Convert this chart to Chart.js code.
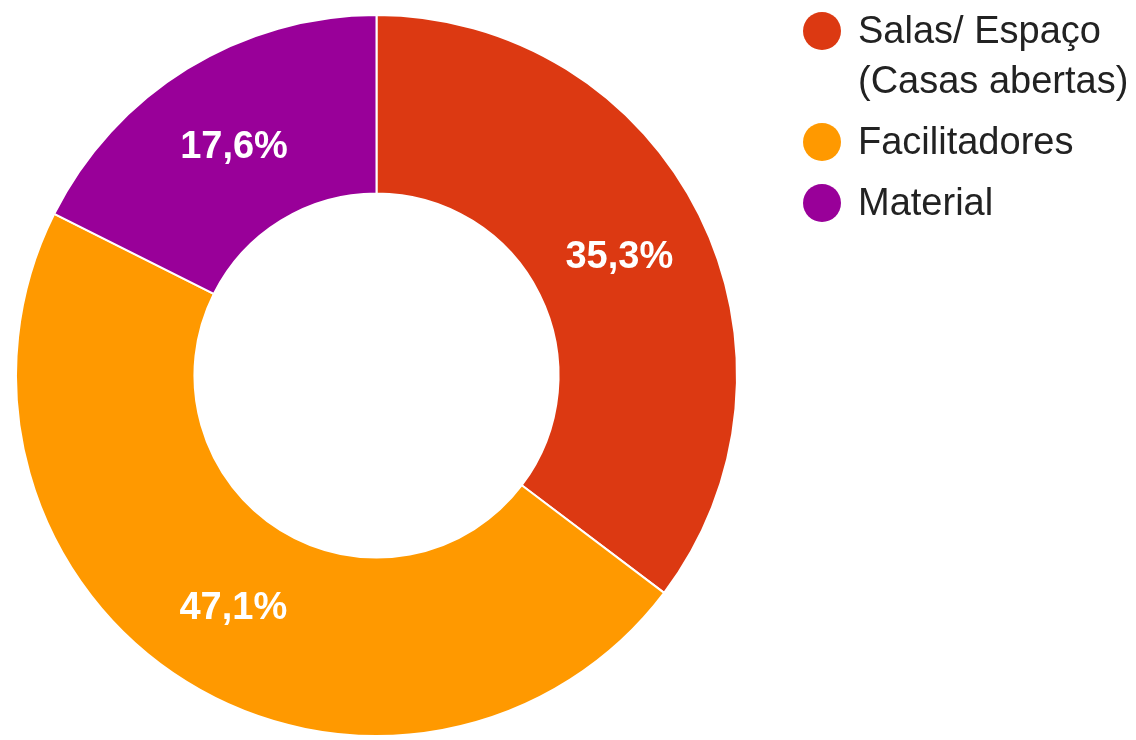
<!DOCTYPE html>
<html>
<head>
<meta charset="utf-8">
<script src="https://cdn.jsdelivr.net/npm/chart.js@4"></script>
<style>
  html, body { margin: 0; padding: 0; background: #fff; }
  #wrap { position: relative; width: 1136px; height: 740px; }
  #legend { position: absolute; left: 803px; top: 0; font-family: "Liberation Sans", Arial, sans-serif; font-size: 38px; color: #222; }
  .item { position: absolute; left: 0; white-space: nowrap; }
  .dot { position: absolute; left: 0; width: 38px; height: 38px; border-radius: 50%; }
  .txt { position: absolute; left: 55px; line-height: 50px; }
</style>
</head>
<body>
<div id="wrap">
  <canvas id="donut" width="1136" height="740"></canvas>
  <div id="legend"></div>
</div>
<script>
const categories = ["Salas/ Espaço\n(Casas abertas)", "Facilitadores", "Material"]
const values = [35.3, 47.1, 17.6]
const colors = ["#dc3912", "#ff9900", "#990099"]

// legend rows (top of each row, px)
const legendTops = [5, 116, 177]
const legend = document.getElementById("legend")
categories.forEach((name, i) => {
  const item = document.createElement("div")
  item.className = "item"
  item.style.top = legendTops[i] + "px"
  const dot = document.createElement("div")
  dot.className = "dot"
  dot.style.background = colors[i]
  dot.style.top = "7px"
  const txt = document.createElement("div")
  txt.className = "txt"
  txt.innerHTML = name.split("\n").join("<br>")
  item.appendChild(dot)
  item.appendChild(txt)
  legend.appendChild(item)
})

// percent labels inside slices
const sliceLabels = {
  id: "sliceLabels",
  afterDatasetsDraw(chart) {
    const { ctx } = chart
    const meta = chart.getDatasetMeta(0)
    ctx.save()
    ctx.fillStyle = "#ffffff"
    ctx.font = "bold 38px 'Liberation Sans', Arial, sans-serif"
    ctx.textAlign = "center"
    ctx.textBaseline = "middle"
    meta.data.forEach((arc, i) => {
      const p = arc.tooltipPosition()
      ctx.fillText(values[i].toFixed(1).replace(".", ",") + "%", p.x, p.y + 3)
    })
    ctx.restore()
  }
}

new Chart(document.getElementById("donut"), {
  type: "doughnut",
  data: {
    labels: categories,
    datasets: [{
      data: values,
      backgroundColor: colors,
      borderColor: "#ffffff",
      borderWidth: 2
    }]
  },
  options: {
    responsive: false,
    animation: false,
    cutout: "50.5%",
    layout: { padding: { left: 15, right: 398, top: 14, bottom: 3 } },
    plugins: {
      legend: { display: false },
      tooltip: { enabled: false }
    }
  },
  plugins: [sliceLabels]
})
</script>
</body>
</html>
